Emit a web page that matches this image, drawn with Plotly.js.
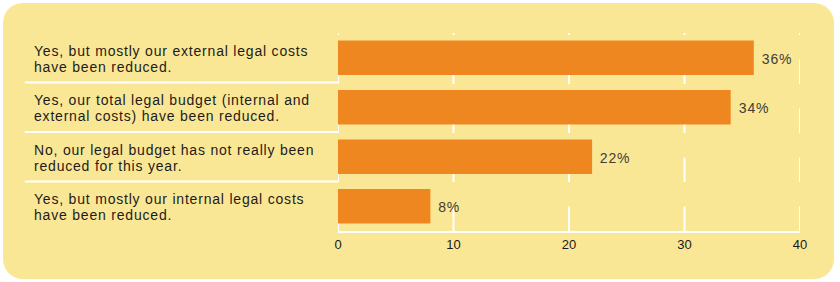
<!DOCTYPE html>
<html>
<head>
<meta charset="utf-8">
<script src="https://cdn.plot.ly/plotly-3.0.1.min.js"></script>
<style>
  html, body { margin: 0; padding: 0; background: #ffffff; }
  #wrap { position: relative; width: 840px; height: 282px; overflow: hidden; }
  #panel { position: absolute; left: 3px; top: 3px; width: 831px; height: 276px;
           background: #fae796; border-radius: 20px; }
  #chart { position: absolute; left: 0; top: 0; width: 840px; height: 282px; }
  #chart .annotation-text { letter-spacing: 0.8px; }
</style>
</head>
<body>
<div id="wrap">
  <div id="panel"></div>
  <div id="chart"></div>
</div>
<script>
const labelLine1 = [
  "Yes, but mostly our external legal costs",
  "Yes, our total legal budget (internal and",
  "No, our legal budget has not really been",
  "Yes, but mostly our internal legal costs"
];
const labelLine2 = [
  "have been reduced.",
  "external costs) have been reduced.",
  "reduced for this year.",
  "have been reduced."
];
const values = [36, 34, 22, 8];
const tickVals = [0, 10, 20, 30, 40];
const tickText = ["0", "10", "20", "30", "40"];

const barColor = "#ee8720";
const lineColor = "#ffffff";
const textFont = "Liberation Sans, Arial, Helvetica, sans-serif";

const catIdx = labelLine1.map((c, i) => i);

const trace = {
  type: "bar",
  orientation: "h",
  x: values,
  y: catIdx,
  width: 0.7,
  marker: { color: barColor, line: { width: 0 } },
  hoverinfo: "none"
};

const shapes = [];
// dashed white gridlines (drawn from bottom up)
tickVals.forEach(v => {
  shapes.push({
    type: "line", layer: "below", xref: "x", yref: "paper",
    x0: v, x1: v, y0: 0, y1: 1,
    line: { color: lineColor, width: 2, dash: "24.5px,24.5px" }
  });
});
// separators between category labels
for (let i = 0; i < catIdx.length - 1; i++) {
  shapes.push({
    type: "line", layer: "below", xref: "paper", yref: "y",
    x0: -0.678, x1: 0, y0: i + 0.5, y1: i + 0.5,
    line: { color: lineColor, width: 2 }
  });
}

const annotations = [];
catIdx.forEach(i => {
  annotations.push({
    xref: "paper", yref: "y", x: -0.662, y: i,
    xanchor: "left", yanchor: "middle", align: "left", yshift: 7,
    text: labelLine1[i], showarrow: false,
    font: { family: textFont, size: 14, color: "#1e1c1a" }
  });
  annotations.push({
    xref: "paper", yref: "y", x: -0.662, y: i,
    xanchor: "left", yanchor: "middle", align: "left", yshift: -9,
    text: labelLine2[i], showarrow: false,
    font: { family: textFont, size: 14, color: "#1e1c1a" }
  });
  annotations.push({
    xref: "x", yref: "y", x: values[i], y: i,
    xanchor: "left", yanchor: "middle", xshift: 7, yshift: -1,
    text: values[i] + "%", showarrow: false,
    font: { family: textFont, size: 14, color: "#403d38" }
  });
});

const layout = {
  width: 840, height: 282,
  margin: { l: 338, r: 40, t: 33, b: 51, pad: 0 },
  paper_bgcolor: "rgba(0,0,0,0)",
  plot_bgcolor: "rgba(0,0,0,0)",
  showlegend: false,
  xaxis: {
    range: [0, 40], tickvals: tickVals, ticktext: tickText,
    showgrid: false, zeroline: false,
    showline: true, linecolor: lineColor, linewidth: 2,
    ticks: "", tickfont: { family: textFont, size: 13, color: "#1a1a1a" },
    fixedrange: true
  },
  yaxis: {
    range: [3.5, -0.5], showticklabels: false, showgrid: false,
    zeroline: false, showline: false, ticks: "", fixedrange: true
  },
  shapes: shapes,
  annotations: annotations
};

Plotly.newPlot("chart", [trace], layout, { displayModeBar: false, staticPlot: true });
</script>
</body>
</html>
